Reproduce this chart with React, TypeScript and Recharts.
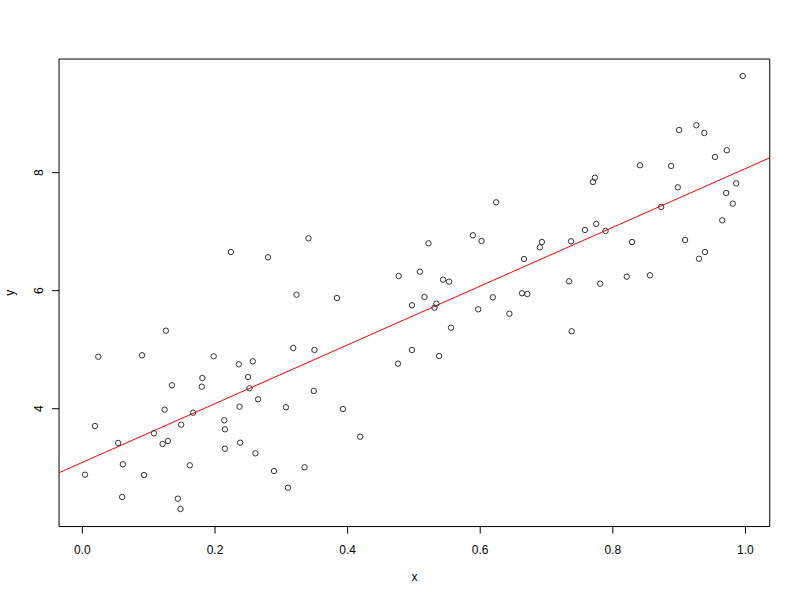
import { ScatterChart, Scatter, XAxis, YAxis, ReferenceLine, ReferenceArea } from "recharts";

const xs = [
  0.624, 0.996, 0.9, 0.926, 0.938, 0.972, 0.954, 0.841, 0.888, 0.773,
  0.77, 0.898, 0.986, 0.971, 0.981, 0.873, 0.965, 0.758, 0.775, 0.789,
  0.693, 0.69, 0.737, 0.829, 0.909, 0.939, 0.93, 0.734, 0.781, 0.821,
  0.856, 0.738, 0.341, 0.522, 0.589, 0.602, 0.666, 0.477, 0.509, 0.544,
  0.553, 0.323, 0.384, 0.516, 0.497, 0.534, 0.531, 0.619, 0.597, 0.644,
  0.663, 0.671, 0.556, 0.318, 0.35, 0.497, 0.538, 0.476, 0.224, 0.28,
  0.126, 0.024, 0.09, 0.198, 0.236, 0.257, 0.181, 0.135, 0.18, 0.25,
  0.252, 0.265, 0.307, 0.237, 0.124, 0.167, 0.019, 0.149, 0.108, 0.214,
  0.215, 0.054, 0.121, 0.129, 0.238, 0.215, 0.261, 0.061, 0.162, 0.004,
  0.093, 0.289, 0.31, 0.06, 0.144, 0.148, 0.349, 0.393, 0.419, 0.335,
];
const ys = [
  7.498, 9.639, 8.724, 8.803, 8.673, 8.38, 8.266, 8.125, 8.114, 7.915,
  7.842, 7.752, 7.82, 7.656, 7.475, 7.419, 7.193, 7.029, 7.131, 7.012,
  6.825, 6.735, 6.837, 6.825, 6.859, 6.656, 6.542, 6.159, 6.119, 6.237,
  6.261, 5.312, 6.888, 6.803, 6.939, 6.842, 6.537, 6.249, 6.322, 6.186,
  6.153, 5.932, 5.876, 5.893, 5.753, 5.78, 5.712, 5.888, 5.685, 5.61,
  5.956, 5.944, 5.373, 5.029, 4.995, 4.995, 4.893, 4.763, 6.656, 6.566,
  5.322, 4.881, 4.905, 4.888, 4.753, 4.803, 4.52, 4.397, 4.373, 4.537,
  4.346, 4.159, 4.024, 4.034, 3.983, 3.932, 3.707, 3.729, 3.583, 3.803,
  3.651, 3.419, 3.402, 3.453, 3.424, 3.322, 3.244, 3.058, 3.041, 2.881,
  2.876, 2.944, 2.661, 2.503, 2.475, 2.3, 4.3, 3.995, 3.525, 3.007,
];

const xTicks = [0, 0.2, 0.4, 0.6, 0.8, 1.0];
const yTicks = [4, 6, 8];

// fitted line y = a + b x
const INTERCEPT = 3.09;
const SLOPE = 4.98;

// R pads the data range by 4% on each side
const X_DOMAIN = [-0.0352, 1.0367];
const Y_DOMAIN = [2.0024, 9.926];

const FONT = "'Liberation Sans', Arial, Helvetica, sans-serif";

const data = xs.map((x, i) => ({ x, y: ys[i] }));

function XTick(props: any) {
  const { x, y, payload } = props;
  return (
    <text x={x} y={y + 20} textAnchor="middle" fontSize={12} fontFamily={FONT} fill="#000">
      {Number(payload.value).toFixed(1)}
    </text>
  );
}

function YTick(props: any) {
  const { x, y, payload } = props;
  const bx = x - 9.3;
  return (
    <text
      x={bx}
      y={y}
      transform={`rotate(-90, ${bx}, ${y})`}
      textAnchor="middle"
      fontSize={12}
      fontFamily={FONT}
      fill="#000"
    >
      {payload.value}
    </text>
  );
}

function Ring(props: any) {
  return <circle cx={props.cx} cy={props.cy} r={2.7} fill="none" stroke="#333" strokeWidth={1} />;
}

export default function App() {
  const lineEnds = [
    { x: X_DOMAIN[0], y: INTERCEPT + SLOPE * X_DOMAIN[0] },
    { x: X_DOMAIN[1], y: INTERCEPT + SLOPE * X_DOMAIN[1] },
  ];
  return (
    <div style={{ position: "absolute", left: 0, top: 0, width: 800, height: 600, background: "#fff" }}>
      <ScatterChart width={800} height={600} margin={{ top: 59.04, right: 30.24, bottom: 0, left: 0 }}>
        <XAxis
          type="number"
          dataKey="x"
          domain={X_DOMAIN}
          allowDataOverflow
          ticks={xTicks}
          height={73.44}
          axisLine={false}
          tickLine={{ stroke: "#000" }}
          tickSize={7}
          tickMargin={0}
          tick={<XTick />}
          label={{
            content: (p: any) => (
              <text
                x={p.viewBox.x + p.viewBox.width / 2}
                y={p.viewBox.y + 54}
                textAnchor="middle"
                fontSize={12}
                fontFamily={FONT}
                fill="#000"
              >
                x
              </text>
            ),
          }}
        />
        <YAxis
          type="number"
          dataKey="y"
          domain={Y_DOMAIN}
          allowDataOverflow
          ticks={yTicks}
          width={59.04}
          axisLine={false}
          tickLine={{ stroke: "#000" }}
          tickSize={7}
          tickMargin={0}
          tick={<YTick />}
          label={{
            content: (p: any) => {
              const cx = 14;
              const cy = p.viewBox.y + p.viewBox.height / 2;
              return (
                <text
                  x={cx}
                  y={cy}
                  transform={`rotate(-90, ${cx}, ${cy})`}
                  textAnchor="middle"
                  fontSize={12}
                  fontFamily={FONT}
                  fill="#000"
                >
                  y
                </text>
              );
            },
          }}
        />
        <Scatter data={data} shape={<Ring />} isAnimationActive={false} />
        <ReferenceLine segment={lineEnds} stroke="#ff0000" strokeWidth={1} ifOverflow="visible" />
        <ReferenceArea
          x1={X_DOMAIN[0]}
          x2={X_DOMAIN[1]}
          y1={Y_DOMAIN[0]}
          y2={Y_DOMAIN[1]}
          fill="none"
          stroke="#000"
          strokeWidth={1}
          ifOverflow="visible"
        />
      </ScatterChart>
    </div>
  );
}
